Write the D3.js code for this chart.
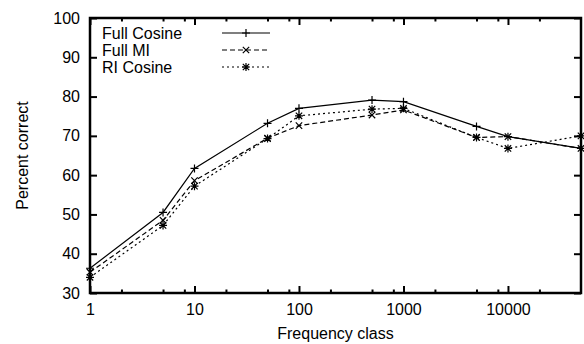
<!DOCTYPE html>
<html>
<head>
<meta charset="utf-8">
<script src="https://cdn.jsdelivr.net/npm/d3@7"></script>
<style>
  body { margin: 0; background: #fff; }
  svg { display: block; font-family: "Liberation Sans", Arial, Helvetica, sans-serif; }
</style>
</head>
<body>
<svg id="chart" width="584" height="344"></svg>
<script>
// data
const freqClasses = [1, 5, 10, 50, 100, 500, 1000, 5000, 10000, 50000];
const fullCosine = [36.3, 50.5, 61.7, 73.2, 77.0, 79.1, 78.7, 72.4, 69.8, 66.8];
const fullMI     = [35.3, 48.5, 58.6, 69.4, 72.6, 75.3, 76.6, 69.6, 69.8, 66.8];
const riCosine   = [34.0, 47.2, 57.2, 69.3, 75.1, 76.8, 77.0, 69.6, 66.8, 70.0];
const seriesNames = ['Full Cosine', 'Full MI', 'RI Cosine'];

const xMajorTicks = [1, 10, 100, 1000, 10000];
const xMinorTicks = [2, 5, 8, 20, 50, 80, 200, 500, 800, 2000, 5000, 8000, 20000];
const yTicks = [30, 40, 50, 60, 70, 80, 90, 100];

const margin = { top: 18, right: 3, bottom: 51, left: 90 };
const W = 584, H = 344;
const width = W - margin.left - margin.right;
const height = H - margin.top - margin.bottom;

const svg = d3.select('#chart');
const g = svg.append('g').attr('transform', `translate(${margin.left},${margin.top})`);

const x = d3.scaleLog().domain([1, 50000]).range([0, width]);
const y = d3.scaleLinear().domain([30, 100]).range([height, 0]);

const series = [
  { name: seriesNames[0], values: fullCosine, dash: null, marker: 'plus' },
  { name: seriesNames[1], values: fullMI, dash: '5,3', marker: 'cross' },
  { name: seriesNames[2], values: riCosine, dash: '2,3', marker: 'star' }
];

function markerPath(type) {
  const s = 4, c = 3.2;
  const plus = `M${-s},0H${s}M0,${-s}V${s}`;
  const cross = `M${-c},${-c}L${c},${c}M${-c},${c}L${c},${-c}`;
  if (type === 'plus') return plus;
  if (type === 'cross') return cross;
  return plus + cross;
}

function styleAxis(sel) {
  sel.select('.domain').remove();
  sel.selectAll('line').attr('stroke', '#000').attr('stroke-width', 2);
  sel.selectAll('text').attr('fill', '#000').style('font-size', '16px');
}

// x axes (bottom + mirrored top)
g.append('g')
  .attr('transform', `translate(0,${height})`)
  .call(d3.axisBottom(x).tickValues(xMajorTicks).tickFormat(d3.format('d'))
    .tickSizeInner(-7).tickSizeOuter(0).tickPadding(11))
  .call(styleAxis);
g.append('g')
  .attr('transform', `translate(0,${height})`)
  .call(d3.axisBottom(x).tickValues(xMinorTicks).tickFormat('')
    .tickSizeInner(-3.5).tickSizeOuter(0))
  .call(styleAxis);
g.append('g')
  .call(d3.axisTop(x).tickValues(xMajorTicks).tickFormat('')
    .tickSizeInner(-7).tickSizeOuter(0))
  .call(styleAxis);
g.append('g')
  .call(d3.axisTop(x).tickValues(xMinorTicks).tickFormat('')
    .tickSizeInner(-3.5).tickSizeOuter(0))
  .call(styleAxis);

// y axes (left + mirrored right)
g.append('g')
  .call(d3.axisLeft(y).tickValues(yTicks).tickSizeInner(-7).tickSizeOuter(0).tickPadding(10))
  .call(styleAxis);
g.append('g')
  .attr('transform', `translate(${width},0)`)
  .call(d3.axisRight(y).tickValues(yTicks).tickFormat('').tickSizeInner(-7).tickSizeOuter(0))
  .call(styleAxis);

// plot border
g.append('rect')
  .attr('width', width).attr('height', height)
  .attr('fill', 'none').attr('stroke', '#000').attr('stroke-width', 2.5);

// lines
const line = d3.line()
  .x((d, i) => x(freqClasses[i]))
  .y(d => y(d));

series.forEach(s => {
  g.append('path')
    .datum(s.values)
    .attr('d', line)
    .attr('fill', 'none')
    .attr('stroke', '#000')
    .attr('stroke-width', 1.2)
    .attr('stroke-dasharray', s.dash);

  g.selectAll(null)
    .data(s.values)
    .enter()
    .append('path')
    .attr('transform', (d, i) => `translate(${x(freqClasses[i])},${y(d)})`)
    .attr('d', markerPath(s.marker))
    .attr('fill', 'none')
    .attr('stroke', '#000')
    .attr('stroke-width', 1.2);
});

// legend
const legend = g.append('g').attr('transform', 'translate(12,15)');
series.forEach((s, i) => {
  const row = legend.append('g').attr('transform', `translate(0,${i * 17})`);
  row.append('text')
    .attr('x', 0).attr('y', 0).attr('dy', '0.35em')
    .style('font-size', '16px')
    .text(s.name);
  row.append('line')
    .attr('x1', 120).attr('x2', 168)
    .attr('stroke', '#000').attr('stroke-width', 1.2)
    .attr('stroke-dasharray', s.dash);
  row.append('path')
    .attr('transform', 'translate(144,0)')
    .attr('d', markerPath(s.marker))
    .attr('fill', 'none').attr('stroke', '#000').attr('stroke-width', 1.2);
});

// axis titles
svg.append('text')
  .attr('x', margin.left + width / 2).attr('y', 339)
  .attr('text-anchor', 'middle')
  .style('font-size', '16px')
  .text('Frequency class');

svg.append('text')
  .attr('transform', `translate(28,${margin.top + height / 2}) rotate(-90)`)
  .attr('text-anchor', 'middle')
  .style('font-size', '16px')
  .text('Percent correct');
</script>
</body>
</html>
